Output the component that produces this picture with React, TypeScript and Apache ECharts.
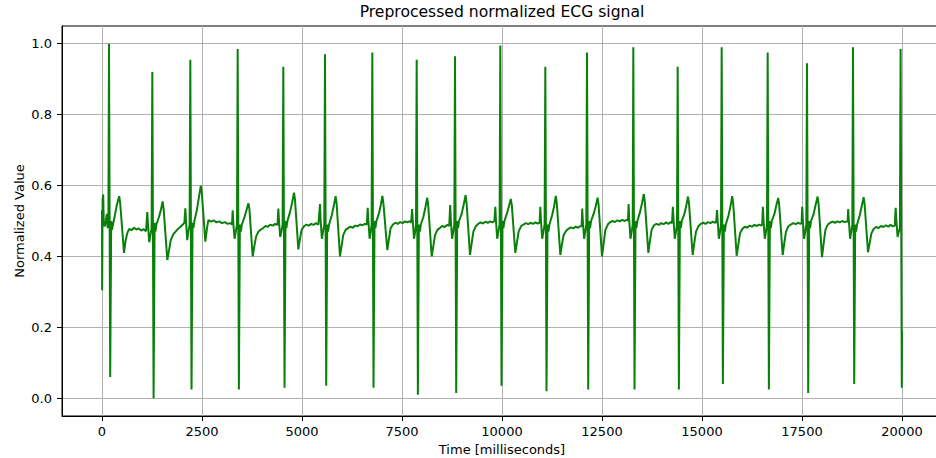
import React, { useEffect, useRef } from "react";
import * as echarts from "echarts";

const chartTitle = "Preprocessed normalized ECG signal";
const xAxisName = "Time [milliseconds]";
const yAxisName = "Normalized Value";

const xTicks = [0, 2500, 5000, 7500, 10000, 12500, 15000, 17500, 20000];
const yTicks = [0, 0.2, 0.4, 0.6, 0.8, 1.0];

// [time ms, normalized value], one array per heartbeat
const startSegment = [[0, 0.53], [4, 0.305], [15, 0.56], [30, 0.575], [45, 0.49], [70, 0.485], [95, 0.5], [120, 0.52], [140, 0.48], [160, 0.5]];
const beat01 = [[175, 1.0], [205, 0.06], [230, 0.5], [250, 0.475], [275, 0.49], [320, 0.515], [370, 0.545], [430, 0.57], [455, 0.55], [550, 0.41], [590, 0.445], [630, 0.465], [680, 0.478], [740, 0.474], [800, 0.481], [860, 0.476], [920, 0.479], [980, 0.473], [1040, 0.477], [1100, 0.471],
  [1133, 0.525], [1150, 0.49], [1180, 0.44], [1210, 0.46], [1240, 0.48]];
const beat02 = [[1258, 0.92], [1290, 0.0], [1315, 0.495], [1335, 0.47], [1360, 0.49], [1420, 0.51], [1470, 0.53], [1515, 0.555], [1540, 0.535], [1633, 0.39], [1680, 0.42], [1720, 0.446], [1780, 0.462], [1840, 0.47], [1900, 0.478], [1960, 0.483], [2020, 0.49], [2060, 0.495],
  [2083, 0.536], [2100, 0.5], [2130, 0.446], [2160, 0.47], [2190, 0.49]];
const beat03 = [[2208, 0.955], [2238, 0.025], [2263, 0.495], [2285, 0.48], [2310, 0.5], [2370, 0.53], [2420, 0.565], [2470, 0.6], [2495, 0.58], [2583, 0.442], [2625, 0.48], [2660, 0.503], [2720, 0.498], [2790, 0.502], [2860, 0.496], [2930, 0.499], [3000, 0.494], [3070, 0.497], [3140, 0.492], [3210, 0.494], [3250, 0.49],
  [3267, 0.53], [3285, 0.49], [3315, 0.45], [3345, 0.47], [3375, 0.49]];
const beat04 = [[3392, 0.985], [3422, 0.025], [3447, 0.49], [3470, 0.47], [3495, 0.49], [3560, 0.51], [3610, 0.53], [3660, 0.55], [3685, 0.535], [3767, 0.4], [3810, 0.43], [3850, 0.455], [3910, 0.47], [3970, 0.476], [4030, 0.48], [4090, 0.486], [4150, 0.484], [4210, 0.49], [4270, 0.487], [4330, 0.492], [4390, 0.489],
  [4408, 0.535], [4425, 0.5], [4455, 0.455], [4485, 0.47], [4515, 0.49]];
const beat05 = [[4533, 0.935], [4563, 0.03], [4588, 0.5], [4610, 0.48], [4635, 0.5], [4700, 0.525], [4750, 0.55], [4800, 0.58], [4825, 0.56], [4908, 0.42], [4950, 0.45], [4990, 0.475], [5050, 0.485], [5110, 0.49], [5170, 0.487], [5230, 0.492], [5290, 0.489], [5350, 0.494], [5410, 0.49],
  [5450, 0.548], [5467, 0.5], [5497, 0.45], [5527, 0.47], [5557, 0.49]];
const beat06 = [[5575, 0.97], [5605, 0.035], [5630, 0.49], [5652, 0.47], [5677, 0.49], [5740, 0.515], [5790, 0.54], [5840, 0.57], [5865, 0.55], [5950, 0.4], [5990, 0.43], [6030, 0.46], [6090, 0.475], [6150, 0.48], [6210, 0.484], [6270, 0.481], [6330, 0.487], [6390, 0.485], [6450, 0.49], [6510, 0.488], [6570, 0.492], [6620, 0.49],
  [6643, 0.537], [6660, 0.5], [6690, 0.45], [6720, 0.47], [6740, 0.49]];
const beat07 = [[6758, 0.975], [6788, 0.03], [6813, 0.5], [6835, 0.48], [6860, 0.5], [6920, 0.52], [6970, 0.545], [7010, 0.571], [7035, 0.55], [7133, 0.418], [7175, 0.45], [7215, 0.48], [7275, 0.49], [7335, 0.495], [7395, 0.492], [7455, 0.497], [7515, 0.494], [7575, 0.499], [7635, 0.496], [7695, 0.5], [7730, 0.495],
  [7752, 0.534], [7770, 0.5], [7800, 0.45], [7830, 0.47], [7850, 0.49]];
const beat08 = [[7867, 0.955], [7897, 0.01], [7922, 0.49], [7945, 0.47], [7970, 0.49], [8030, 0.51], [8080, 0.535], [8130, 0.566], [8155, 0.545], [8242, 0.4], [8285, 0.43], [8325, 0.46], [8385, 0.475], [8445, 0.48], [8505, 0.486], [8565, 0.483], [8625, 0.489], [8680, 0.486],
  [8705, 0.545], [8722, 0.5], [8752, 0.45], [8782, 0.47], [8808, 0.49]];
const beat09 = [[8825, 0.965], [8855, 0.015], [8880, 0.5], [8902, 0.48], [8927, 0.5], [8990, 0.52], [9040, 0.545], [9090, 0.573], [9115, 0.55], [9200, 0.404], [9245, 0.44], [9285, 0.47], [9345, 0.485], [9405, 0.492], [9465, 0.496], [9525, 0.493], [9585, 0.498], [9645, 0.495], [9705, 0.499], [9765, 0.496], [9810, 0.5],
  [9833, 0.54], [9850, 0.5], [9880, 0.45], [9910, 0.47], [9940, 0.49]];
const beat10 = [[9958, 0.995], [9988, 0.035], [10013, 0.5], [10035, 0.48], [10060, 0.5], [10120, 0.52], [10170, 0.54], [10220, 0.562], [10245, 0.545], [10333, 0.41], [10375, 0.44], [10415, 0.47], [10475, 0.485], [10535, 0.49], [10595, 0.494], [10655, 0.491], [10715, 0.495], [10775, 0.492], [10835, 0.496], [10895, 0.493], [10940, 0.495],
  [10958, 0.54], [10975, 0.5], [11005, 0.45], [11035, 0.47], [11065, 0.49]];
const beat11 = [[11083, 0.935], [11113, 0.02], [11138, 0.49], [11160, 0.47], [11185, 0.49], [11250, 0.515], [11300, 0.54], [11345, 0.571], [11370, 0.55], [11458, 0.404], [11500, 0.435], [11540, 0.46], [11600, 0.472], [11660, 0.478], [11720, 0.482], [11780, 0.479], [11840, 0.484], [11900, 0.481], [11960, 0.486], [11990, 0.484],
  [12005, 0.535], [12022, 0.5], [12052, 0.45], [12082, 0.47], [12108, 0.49]];
const beat12 = [[12125, 0.975], [12155, 0.025], [12180, 0.5], [12202, 0.48], [12227, 0.5], [12290, 0.52], [12340, 0.54], [12390, 0.566], [12415, 0.545], [12500, 0.4], [12545, 0.44], [12585, 0.475], [12645, 0.49], [12705, 0.497], [12765, 0.5], [12825, 0.497], [12885, 0.502], [12945, 0.499], [13005, 0.503], [13065, 0.5], [13125, 0.504], [13150, 0.5],
  [13165, 0.548], [13182, 0.5], [13212, 0.45], [13242, 0.47], [13268, 0.49]];
const beat13 = [[13283, 0.99], [13313, 0.025], [13338, 0.5], [13360, 0.48], [13385, 0.5], [13450, 0.525], [13500, 0.55], [13545, 0.576], [13570, 0.555], [13658, 0.41], [13700, 0.445], [13740, 0.475], [13800, 0.488], [13860, 0.492], [13920, 0.489], [13980, 0.494], [14040, 0.491], [14100, 0.496], [14160, 0.492], [14220, 0.497], [14250, 0.494],
  [14272, 0.54], [14290, 0.5], [14320, 0.45], [14350, 0.47], [14375, 0.49]];
const beat14 = [[14392, 0.935], [14422, 0.025], [14447, 0.5], [14470, 0.48], [14495, 0.5], [14560, 0.52], [14610, 0.545], [14650, 0.569], [14675, 0.55], [14767, 0.404], [14810, 0.44], [14850, 0.47], [14910, 0.485], [14970, 0.492], [15030, 0.495], [15090, 0.492], [15150, 0.497], [15210, 0.494], [15270, 0.498], [15330, 0.495], [15355, 0.497],
  [15375, 0.531], [15392, 0.5], [15422, 0.45], [15452, 0.47], [15475, 0.49]];
const beat15 = [[15492, 0.99], [15522, 0.04], [15547, 0.49], [15570, 0.47], [15595, 0.49], [15660, 0.515], [15710, 0.54], [15755, 0.57], [15780, 0.55], [15867, 0.402], [15910, 0.435], [15950, 0.465], [16010, 0.478], [16070, 0.484], [16130, 0.481], [16190, 0.487], [16250, 0.484], [16310, 0.489], [16370, 0.486], [16430, 0.49], [16490, 0.487], [16505, 0.49],
  [16522, 0.54], [16540, 0.5], [16570, 0.45], [16600, 0.47], [16625, 0.49]];
const beat16 = [[16642, 0.975], [16672, 0.025], [16697, 0.5], [16720, 0.48], [16745, 0.5], [16810, 0.52], [16860, 0.545], [16905, 0.565], [16930, 0.545], [17017, 0.404], [17060, 0.44], [17100, 0.47], [17160, 0.485], [17220, 0.49], [17280, 0.494], [17340, 0.491], [17400, 0.495], [17460, 0.492], [17490, 0.494],
  [17505, 0.54], [17522, 0.5], [17552, 0.45], [17582, 0.47], [17608, 0.49]];
const beat17 = [[17625, 0.945], [17655, 0.015], [17680, 0.5], [17702, 0.48], [17727, 0.5], [17790, 0.52], [17840, 0.545], [17890, 0.569], [17915, 0.548], [18000, 0.398], [18045, 0.44], [18085, 0.475], [18145, 0.49], [18205, 0.495], [18265, 0.498], [18325, 0.495], [18385, 0.499], [18445, 0.496], [18505, 0.5], [18565, 0.497], [18625, 0.499], [18640, 0.497],
  [18655, 0.534], [18672, 0.5], [18702, 0.45], [18732, 0.47], [18758, 0.49]];
const beat18 = [[18775, 0.99], [18805, 0.04], [18830, 0.49], [18852, 0.47], [18877, 0.49], [18940, 0.515], [18990, 0.54], [19040, 0.567], [19065, 0.548], [19150, 0.412], [19195, 0.44], [19235, 0.465], [19295, 0.478], [19355, 0.483], [19415, 0.48], [19475, 0.486], [19535, 0.483], [19595, 0.488], [19655, 0.484], [19715, 0.489], [19775, 0.485], [19820, 0.487],
  [19842, 0.537], [19860, 0.5], [19890, 0.455], [19920, 0.47], [19948, 0.48]];
const beat19 = [[19965, 0.985], [19995, 0.03], [20000, 0.19]];

const ecgSegments = [startSegment, beat01, beat02, beat03, beat04, beat05, beat06, beat07, beat08, beat09, beat10, beat11, beat12, beat13, beat14, beat15, beat16, beat17, beat18, beat19];

export default function App() {
  const ref = useRef<HTMLDivElement>(null);
  useEffect(() => {
    document.body.style.margin = "0";
    const chart = echarts.init(ref.current as HTMLDivElement, null, { renderer: "svg" });
    const data = ([] as number[][]).concat(...ecgSegments);
    const font = "DejaVu Sans";
    chart.setOption({
      animation: false,
      textStyle: { fontFamily: font },
      title: {
        text: chartTitle,
        left: 502,
        top: 4,
        textAlign: "center",
        padding: 0,
        textStyle: { fontSize: 15.6, fontWeight: "normal", color: "#000", fontFamily: font },
      },
      grid: {
        left: 62, top: 26, width: 880, height: 390,
        containLabel: false, outerBoundsMode: "none",
        show: true, borderColor: "#000", borderWidth: 1, backgroundColor: "transparent",
      },
      xAxis: {
        type: "value",
        min: -1000,
        max: 21000,
        name: xAxisName,
        nameLocation: "middle",
        nameGap: 27,
        nameMoveOverlap: false,
        nameTextStyle: { fontSize: 13, color: "#000", fontFamily: font },
        axisLine: { show: true, onZero: false, lineStyle: { color: "#000", width: 1 } },
        axisTick: { show: true, inside: false, length: 5, customValues: xTicks, lineStyle: { color: "#000", width: 1 } },
        axisLabel: { customValues: xTicks, formatter: (v: number) => String(v), fontSize: 13, color: "#000", margin: 9, fontFamily: font },
        splitLine: { show: true, lineStyle: { color: "#b0b0b0", width: 1 } },
      },
      yAxis: {
        type: "value",
        min: -0.05,
        max: 1.05,
        name: yAxisName,
        nameLocation: "middle",
        nameGap: 36,
        nameMoveOverlap: false,
        nameRotate: 90,
        nameTextStyle: { fontSize: 13, color: "#000", fontFamily: font },
        axisLine: { show: true, onZero: false, lineStyle: { color: "#000", width: 1 } },
        axisTick: { show: true, inside: false, length: 5, customValues: yTicks, lineStyle: { color: "#000", width: 1 } },
        axisLabel: { customValues: yTicks, formatter: (v: number) => v.toFixed(1), fontSize: 13, color: "#000", margin: 10, fontFamily: font },
        splitLine: { show: true, lineStyle: { color: "#b0b0b0", width: 1 } },
      },
      series: [
        {
          type: "line",
          data,
          symbol: "none",
          showSymbol: false,
          lineStyle: { color: "#0a800a", width: 2 },
          itemStyle: { color: "#0a800a" },
        },
      ],
    });
    return () => chart.dispose();
  }, []);
  return <div ref={ref} style={{ width: 936, height: 458 }} />;
}
